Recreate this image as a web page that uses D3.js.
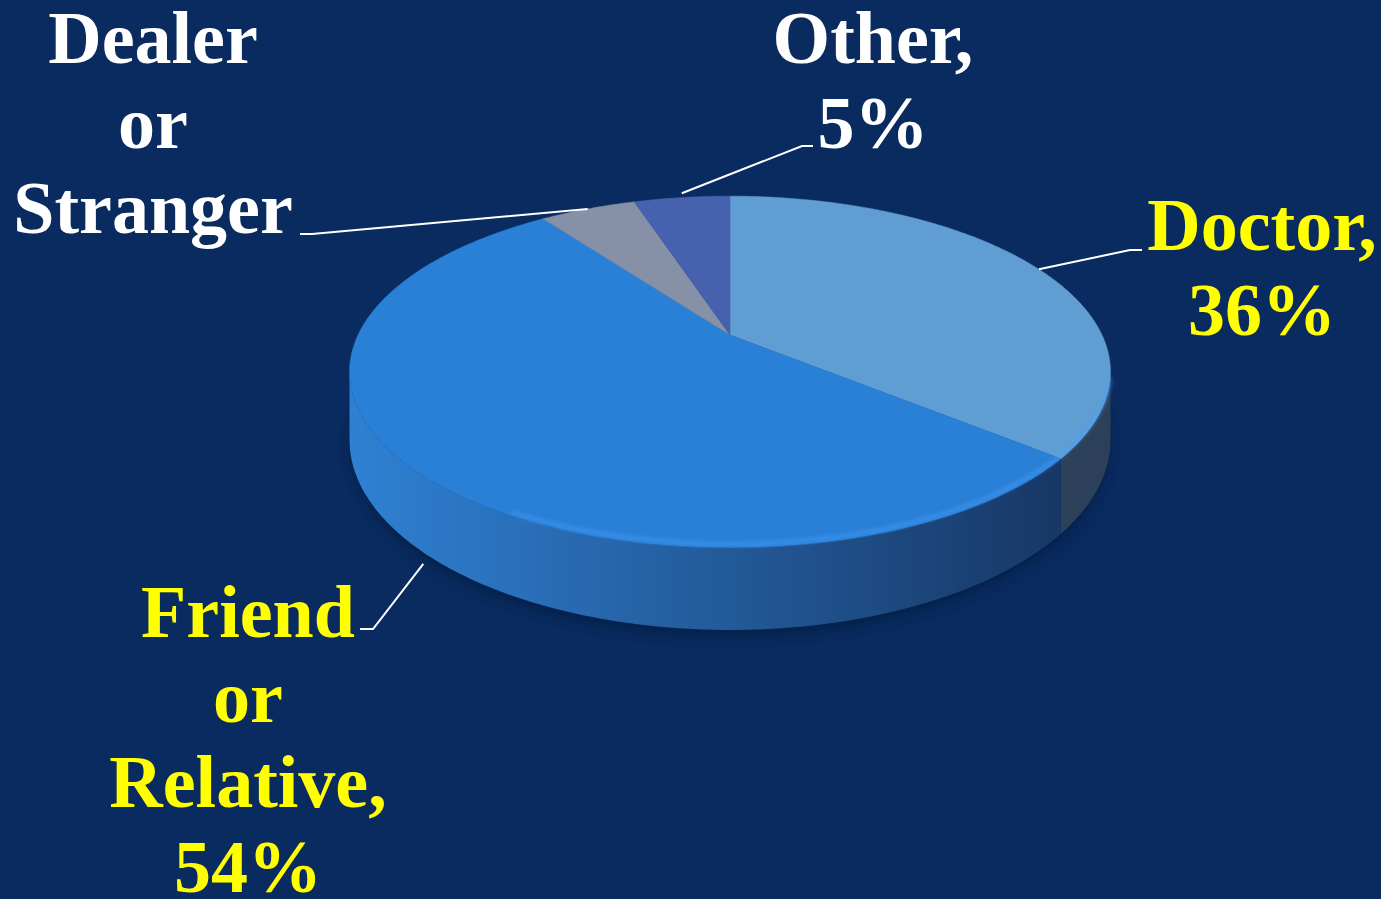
<!DOCTYPE html>
<html>
<head>
<meta charset="utf-8">
<script src="https://cdn.jsdelivr.net/npm/d3@7"></script>
<style>
  html, body { margin: 0; padding: 0; background: #0a2b5f; }
  svg { display: block; }
  text { font-family: "Liberation Serif", "Times New Roman", serif; font-weight: bold; }
</style>
</head>
<body>
<svg id="chart" width="1381" height="899"></svg>
<script>
// data
const categories = ['Doctor', 'Friend or Relative', 'Dealer or Stranger', 'Other'];
const values = [36, 54, 5, 5];
const labelLines = [
  ['Doctor,', '36%'],
  ['Friend', 'or', 'Relative,', '54%'],
  ['Dealer', 'or', 'Stranger'],
  ['Other,', '5%']
];

// couleurs
const topColors = ['#5f9dd2', '#2a7fd6', '#8691a7', '#4662ae'];
const sideColors = [['#3a5574', '#2c4059'], ['#2f80d2', '#16335f'], ['#6c7588', '#4d5566'], ['#3a5296', '#2b3f77']];
const labelColors = ['#ffff00', '#ffff00', '#ffffff', '#ffffff'];

// mise en page des étiquettes (centre x, première ligne y, coude du trait, décalage d'angle, chute sur le côté)
const labelLayout = [
  {x: 1262, y: 250, lx: 1142, ex: 1130, ly: 250, da: 0, drop: 0},
  {x: 248, y: 637, lx: 360, ex: 373, ly: 629, da: -0.04, drop: 1.15},
  {x: 153, y: 63, lx: 300, ex: 312, ly: 234, da: 0, drop: 0},
  {x: 873, y: 63, lx: 813, ex: 802, ly: 146, da: 0, drop: -0.08}
];

const svg = d3.select('#chart');
const width = +svg.attr('width');
const height = +svg.attr('height');

svg.append('rect').attr('width', width).attr('height', height).attr('fill', '#0a2b5f');

// géométrie du camembert 3D (perspective simple)
const cx = 730, cy = 335, rx = 372, ry = 168, k = 0.21, depth = 65;

function proj(theta, drop) {
  const w = 1 + k * Math.cos(theta);
  return [cx + rx * Math.sin(theta) / w, cy + (-ry * Math.cos(theta) + drop) / w];
}

const pie = d3.pie().sort(null).value(d => d)(values);
const line = d3.line();

const defs = svg.append('defs');
defs.append('filter').attr('id', 'blur').append('feGaussianBlur').attr('stdDeviation', 2);
defs.append('filter').attr('id', 'shadow').append('feGaussianBlur').attr('stdDeviation', 6);

sideColors.forEach((c, i) => {
  const g = defs.append('linearGradient')
    .attr('id', 'side' + i)
    .attr('gradientUnits', 'userSpaceOnUse')
    .attr('x1', cx - rx).attr('x2', cx + rx).attr('y1', 0).attr('y2', 0);
  g.append('stop').attr('offset', 0).attr('stop-color', c[0]);
  g.append('stop').attr('offset', 1).attr('stop-color', c[1]);
});

// ombre sous le disque
const shadowPts = d3.range(0, 361, 3).map(a => proj(a * Math.PI / 180, depth + 6));
svg.append('path')
  .attr('d', line(shadowPts) + 'Z')
  .attr('fill', '#041a40')
  .attr('opacity', 0.6)
  .attr('filter', 'url(#shadow)');

// parties visibles du côté
const visA = Math.acos(-k), visB = 2 * Math.PI - Math.acos(-k);

function arcPts(a0, a1, drop) {
  const n = Math.max(2, Math.ceil((a1 - a0) / 0.01));
  return d3.range(n + 1).map(i => proj(a0 + (a1 - a0) * i / n, drop));
}

const sides = svg.append('g');
pie.forEach((p, i) => {
  const a0 = Math.max(p.startAngle, visA), a1 = Math.min(p.endAngle, visB);
  if (a1 <= a0) return;
  const pts = arcPts(a0, a1, 0).concat(arcPts(a0, a1, depth).reverse());
  sides.append('path')
    .attr('d', line(pts) + 'Z')
    .attr('fill', `url(#side${i})`);
});

// dessus
const tops = svg.append('g');
pie.forEach((p, i) => {
  const pts = [[cx, cy]].concat(arcPts(p.startAngle, p.endAngle, 0));
  tops.append('path')
    .attr('d', line(pts) + 'Z')
    .attr('fill', topColors[i])
    .attr('stroke', topColors[i])
    .attr('stroke-width', 0.5);
});

// reflet sur le bord avant
svg.append('path')
  .attr('d', line(arcPts(visA + 0.05, Math.PI + 0.5, -3)))
  .attr('fill', 'none')
  .attr('stroke', '#4aa3ff')
  .attr('stroke-width', 3)
  .attr('opacity', 0.7)
  .attr('filter', 'url(#blur)');

// étiquettes et traits de rappel
const labels = svg.append('g');
pie.forEach((p, i) => {
  const L = labelLayout[i];
  const mid = (p.startAngle + p.endAngle) / 2 + L.da;
  const end = proj(mid, L.drop * depth);
  labels.append('path')
    .attr('d', line([[L.lx, L.ly], [L.ex, L.ly], end]))
    .attr('fill', 'none')
    .attr('stroke', '#ffffff')
    .attr('stroke-width', 2);

  const t = labels.append('text')
    .attr('text-anchor', 'middle')
    .attr('font-size', 74)
    .attr('fill', labelColors[i]);
  labelLines[i].forEach((s, j) => {
    t.append('tspan').attr('x', L.x).attr('y', L.y + j * 85).text(s);
  });
});
</script>
</body>
</html>
